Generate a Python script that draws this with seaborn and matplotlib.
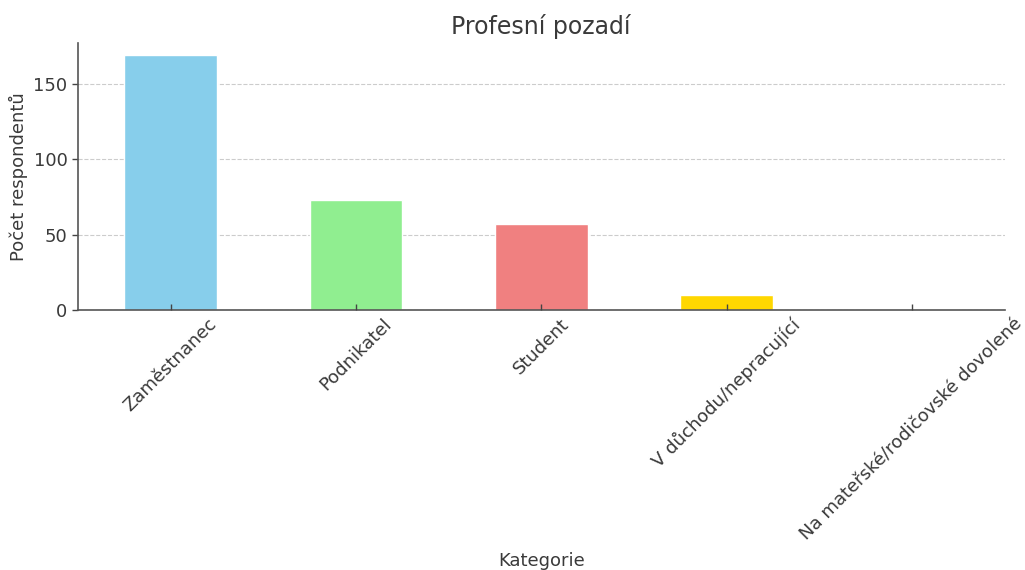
import pandas as pd
import matplotlib.pyplot as plt
import seaborn as sns

# Data
categories = ['Zaměstnanec', 'Podnikatel', 'Student', 'V důchodu/nepracující',
              'Na mateřské/rodičovské dovolené']
counts = [169, 73, 57, 10, 1]
colors = ['skyblue', 'lightgreen', 'lightcoral', 'gold', 'violet']

df = pd.DataFrame({'Kategorie': categories, 'Počet': counts})

sns.set_style('white')
plt.rcParams['font.family'] = ['DejaVu Sans']

fig, ax = plt.subplots(figsize=(10.25, 5.7), dpi=100)
sns.barplot(data=df, x='Kategorie', y='Počet', hue='Kategorie', palette=colors,
            legend=False, width=0.5, saturation=1, ax=ax, zorder=2)

ax.set_xlim(-0.5, 4.5)
ax.set_ylim(0, max(counts) * 1.05)
ax.set_title('Profesní pozadí', fontsize=17, color='#3a3a3a')
ax.set_xlabel('Kategorie', fontsize=13, color='#3a3a3a', labelpad=6)
ax.set_ylabel('Počet respondentů', fontsize=13, color='#3a3a3a')
ax.set_yticks([0, 50, 100, 150])
ax.tick_params(axis='x', direction='in', length=4, width=1, color='#444444',
               labelsize=13, labelcolor='#3a3a3a', bottom=True)
ax.tick_params(axis='y', direction='out', length=4, width=1, color='#444444',
               labelsize=13, labelcolor='#3a3a3a', left=True)
plt.setp(ax.get_xticklabels(), rotation=45, ha='center')

# grid below the bars, x ticks above them
ax.yaxis.grid(True, linestyle='--', color='#cccccc', linewidth=0.8)
ax.set_axisbelow(True)
ax.xaxis.set_zorder(3)
sns.despine(ax=ax)
for s in ['left', 'bottom']:
    ax.spines[s].set_color('#555555')
    ax.spines[s].set_linewidth(1.2)

plt.subplots_adjust(left=0.076, right=0.98, top=0.925, bottom=0.456)
plt.savefig('out.png', dpi=100)
